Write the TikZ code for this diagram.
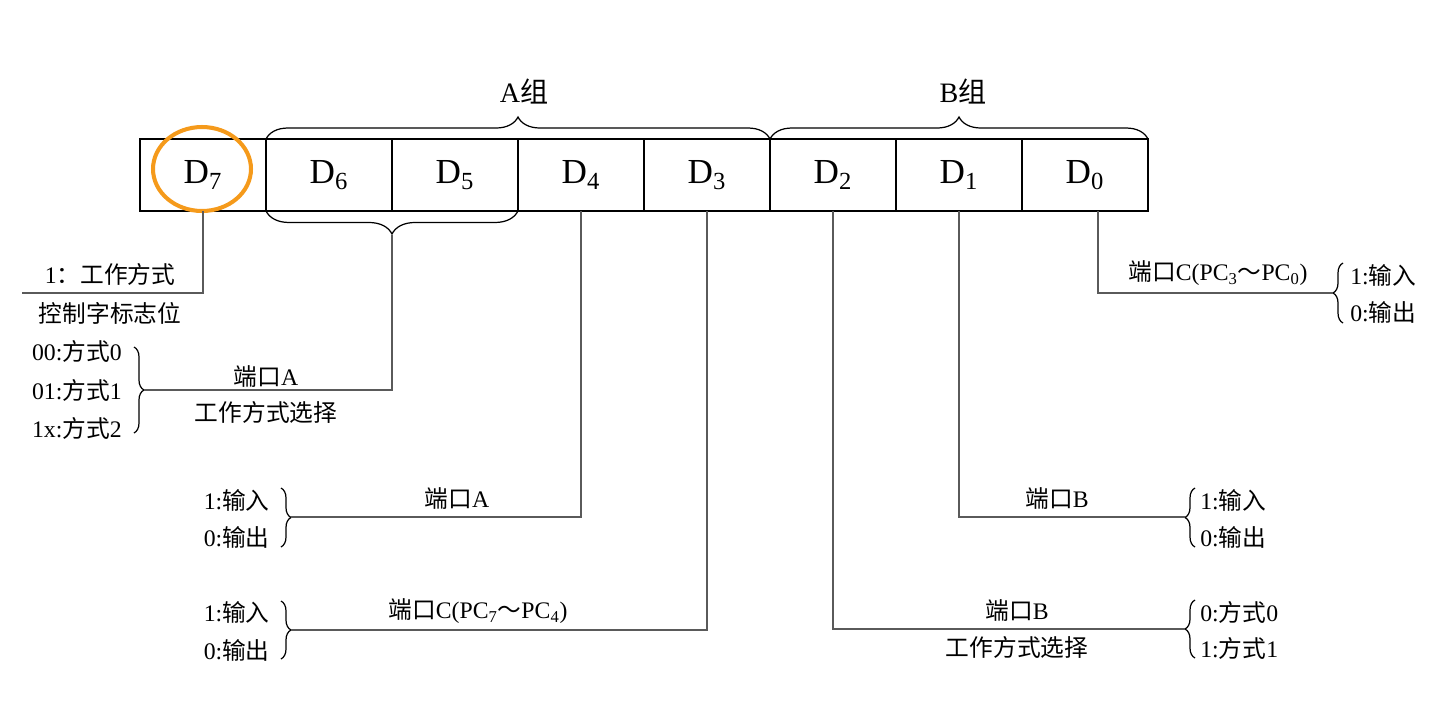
\documentclass[tikz,border=0pt]{standalone}
\usepackage{fontspec}
\setmainfont{Liberation Serif}
\newfontfamily\cjk{Noto Sans CJK SC}
\usepackage{xcolor}
\usepackage{tikz}
\usetikzlibrary{decorations.pathreplacing}
\definecolor{CWOrange}{HTML}{F59A1B}
\definecolor{CWLine}{HTML}{5A5A5A}
\newcommand{\zh}[1]{{\cjk #1}}

\begin{document}
\begin{tikzpicture}[x=0.02cm,y=-0.02cm,
  cell/.style={draw,line width=1.4pt,minimum width=2.52cm,minimum height=1.44cm,
    inner sep=0pt,outer sep=0pt,font=\fontsize{20}{24}\selectfont},
  lbl/.style={inner sep=0pt,font=\fontsize{13.5}{16}\selectfont},
  grp/.style={inner sep=0pt,font=\fontsize{16}{19}\selectfont},
  wire/.style={CWLine,line width=0.9pt},
  brc/.style={decorate,decoration={brace,amplitude=#1},line width=0.7pt}]
\path[use as bounding box] (0,0) rectangle (1447,720);
% control word register
\node[cell] (d7) at (203,175) {D\textsubscript{7}};
\node[cell] (d6) at (329,175) {D\textsubscript{6}};
\node[cell] (d5) at (455,175) {D\textsubscript{5}};
\node[cell] (d4) at (581,175) {D\textsubscript{4}};
\node[cell] (d3) at (707,175) {D\textsubscript{3}};
\node[cell] (d2) at (833,175) {D\textsubscript{2}};
\node[cell] (d1) at (959,175) {D\textsubscript{1}};
\node[cell] (d0) at (1085,175) {D\textsubscript{0}};
\draw[CWOrange,line width=2.3pt] (202,169) ellipse [x radius=0.98cm,y radius=0.84cm];
% group braces
\draw[brc=0.44cm] (d6.north west) -- (d3.north east);
\draw[brc=0.44cm] (d2.north west) -- (d0.north east);
\node[grp] (ga) at (524,92) {A\zh{组}};
\node[grp] (gb) at (963,92) {B\zh{组}};
% D7
\coordinate (cw) at (22,293);
\draw[wire] (d7.south) |- (cw);
\node[lbl] (cw1) at (110,274) {1\zh{：工作方式}};
\node[lbl] (cw2) at (110,313) {\zh{控制字标志位}};
% D6 D5
\draw[brc=0.46cm] (d5.south east) -- (d6.south west);
\coordinate (b65) at (392,235);
\coordinate (pa) at (144,390);
\draw[brc=0.2cm] (134,347) -- (134,433);
\draw[wire] (b65) |- (pa);
\node[lbl] (pa1) at (266,377) {\zh{端口}A};
\node[lbl] (pa2) at (266,412) {\zh{工作方式选择}};
\node[lbl,anchor=east] (ma0) at (122,351) {00:\zh{方式}0};
\node[lbl,anchor=east] (ma1) at (122,390) {01:\zh{方式}1};
\node[lbl,anchor=east] (ma2) at (122,428) {1x:\zh{方式}2};
% D4
\coordinate (ia) at (291,517);
\draw[brc=0.2cm] (281,488) -- (281,547);
\draw[wire] (d4.south) |- (ia);
\node[lbl] (ia1) at (457,499) {\zh{端口}A};
\node[lbl,anchor=east] (ia2) at (270,500) {1:\zh{输入}};
\node[lbl,anchor=east] (ia3) at (270,537) {0:\zh{输出}};
% D3
\coordinate (ich) at (291,630);
\draw[brc=0.2cm] (281,601) -- (281,659);
\draw[wire] (d3.south) |- (ich);
\node[lbl] (ich1) at (478,611) {\zh{端口}C(PC\textsubscript{7}\zh{～}PC\textsubscript{4})};
\node[lbl,anchor=east] (ich2) at (270,612) {1:\zh{输入}};
\node[lbl,anchor=east] (ich3) at (270,650) {0:\zh{输出}};
% D2
\coordinate (mb) at (1185,629);
\draw[brc=0.2cm] (1195,658) -- (1195,600);
\draw[wire] (d2.south) |- (mb);
\node[lbl] (mb1) at (1017,611) {\zh{端口}B};
\node[lbl] (mb2) at (1017,647) {\zh{工作方式选择}};
\node[lbl,anchor=west] (mb3) at (1200,612) {0:\zh{方式}0};
\node[lbl,anchor=west] (mb4) at (1200,648) {1:\zh{方式}1};
% D1
\coordinate (ib) at (1185,517);
\draw[brc=0.2cm] (1195,547) -- (1195,488);
\draw[wire] (d1.south) |- (ib);
\node[lbl] (ib1) at (1057,499) {\zh{端口}B};
\node[lbl,anchor=west] (ib2) at (1200,500) {1:\zh{输入}};
\node[lbl,anchor=west] (ib3) at (1200,537) {0:\zh{输出}};
% D0
\coordinate (icl) at (1333,293);
\draw[brc=0.2cm] (1343,323) -- (1343,263);
\draw[wire] ([xshift=0.26cm]d0.south) |- (icl);
\node[lbl] (icl1) at (1218,273) {\zh{端口}C(PC\textsubscript{3}\zh{～}PC\textsubscript{0})};
\node[lbl,anchor=west] (icl2) at (1350,275) {1:\zh{输入}};
\node[lbl,anchor=west] (icl3) at (1350,312) {0:\zh{输出}};
\end{tikzpicture}
\end{document}
